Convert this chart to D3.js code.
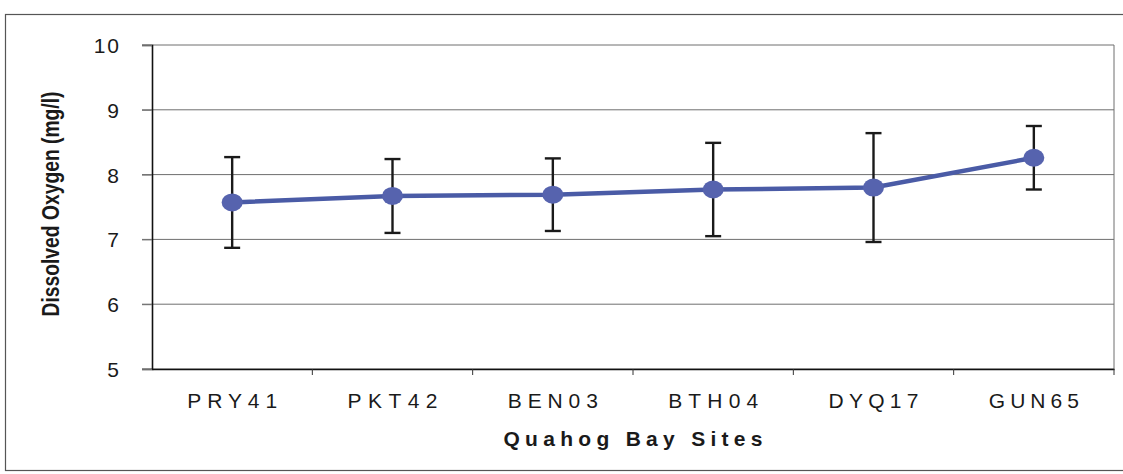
<!DOCTYPE html>
<html>
<head>
<meta charset="utf-8">
<script src="https://cdn.jsdelivr.net/npm/d3@7"></script>
<style>
  body { margin: 0; background: #fff; }
  svg { display: block; font-family: Arial, "Liberation Sans", sans-serif; }
</style>
</head>
<body>
<svg id="chart" width="1123" height="474"></svg>
<script>
// Quahog Bay sites, dissolved oxygen (mg/l), mean with +/- error
const sites = ['PRY41', 'PKT42', 'BEN03', 'BTH04', 'DYQ17', 'GUN65'];
const meanDO = [7.57, 7.67, 7.69, 7.77, 7.80, 8.26];
const errDO = [0.70, 0.57, 0.56, 0.72, 0.84, 0.49];
const yTicks = [5, 6, 7, 8, 9, 10];

const data = sites.map((s, i) => ({ site: s, mean: meanDO[i], err: errDO[i] }));

const svg = d3.select('#chart');
const plotLeft = 152, plotRight = 1114, plotTop = 45, plotBottom = 369;

const x = d3.scaleBand().domain(sites).range([plotLeft, plotRight]).padding(0);
const y = d3.scaleLinear().domain([5, 10]).range([plotBottom, plotTop]);

// outer frame
svg.append('rect')
    .attr('x', 5.5).attr('y', 14.5)
    .attr('width', 1130).attr('height', 456)
    .attr('fill', 'none').attr('stroke', '#555').attr('stroke-width', 1.2);

// gridlines
svg.append('g')
    .selectAll('line')
    .data(yTicks)
    .join('line')
    .attr('x1', plotLeft - 10).attr('x2', plotRight)
    .attr('y1', d => y(d)).attr('y2', d => y(d))
    .attr('stroke', '#6e6e6e').attr('stroke-width', 1);

// right border of plot area
svg.append('line')
    .attr('x1', plotRight).attr('x2', plotRight)
    .attr('y1', plotTop).attr('y2', plotBottom)
    .attr('stroke', '#6e6e6e').attr('stroke-width', 1);

// y axis
const yAxis = svg.append('g')
    .attr('transform', `translate(${plotLeft},0)`)
    .call(d3.axisLeft(y).tickValues(yTicks).tickSize(10).tickPadding(21).tickFormat(d3.format('d')));
yAxis.select('.domain').attr('stroke', '#111').attr('stroke-width', 1.6);
yAxis.selectAll('.tick line').attr('stroke', '#6e6e6e');
yAxis.selectAll('.tick text')
    .attr('font-size', 21).attr('fill', '#1a1a1a')
    .attr('letter-spacing', 2).attr('dy', '0.36em');

// x axis, ticks sit on the band boundaries
const xAxis = svg.append('g')
    .attr('transform', `translate(0,${plotBottom})`)
    .call(d3.axisBottom(x).tickSize(0).tickPadding(24));
xAxis.select('.domain').attr('stroke', '#111').attr('stroke-width', 1.6);
xAxis.selectAll('.tick text')
    .attr('font-size', 21).attr('fill', '#1a1a1a')
    .attr('textLength', 90).attr('lengthAdjust', 'spacing');
svg.append('g')
    .selectAll('line')
    .data(sites)
    .join('line')
    .attr('x1', d => x(d) + x.bandwidth()).attr('x2', d => x(d) + x.bandwidth())
    .attr('y1', plotBottom).attr('y2', plotBottom + 6)
    .attr('stroke', '#333').attr('stroke-width', 1);

// axis titles
svg.append('text')
    .attr('x', (plotLeft + plotRight) / 2).attr('y', 446)
    .attr('text-anchor', 'middle')
    .attr('font-size', 21).attr('font-weight', 'bold').attr('fill', '#1a1a1a')
    .attr('textLength', 259).attr('lengthAdjust', 'spacing')
    .text('Quahog Bay Sites');

svg.append('text')
    .attr('transform', `translate(59,204) rotate(-90)`)
    .attr('text-anchor', 'middle')
    .attr('font-size', 23).attr('font-weight', 'bold').attr('fill', '#1a1a1a')
    .attr('textLength', 225).attr('lengthAdjust', 'spacingAndGlyphs')
    .text('Dissolved Oxygen (mg/l)');

const cx = d => x(d.site) + x.bandwidth() / 2;

// error bars
const bars = svg.append('g').attr('stroke', '#1a1a1a').attr('stroke-width', 2.4);
bars.selectAll('.stem')
    .data(data)
    .join('line')
    .attr('class', 'stem')
    .attr('x1', cx).attr('x2', cx)
    .attr('y1', d => y(d.mean + d.err)).attr('y2', d => y(d.mean - d.err));
bars.selectAll('.cap-hi')
    .data(data)
    .join('line')
    .attr('class', 'cap-hi')
    .attr('x1', d => cx(d) - 8).attr('x2', d => cx(d) + 8)
    .attr('y1', d => y(d.mean + d.err)).attr('y2', d => y(d.mean + d.err));
bars.selectAll('.cap-lo')
    .data(data)
    .join('line')
    .attr('class', 'cap-lo')
    .attr('x1', d => cx(d) - 8).attr('x2', d => cx(d) + 8)
    .attr('y1', d => y(d.mean - d.err)).attr('y2', d => y(d.mean - d.err));

// mean line and markers
const line = d3.line().x(cx).y(d => y(d.mean));
svg.append('path')
    .datum(data)
    .attr('d', line)
    .attr('fill', 'none')
    .attr('stroke', '#4a5ba6')
    .attr('stroke-width', 4.5);

svg.append('g')
    .selectAll('ellipse')
    .data(data)
    .join('ellipse')
    .attr('cx', cx).attr('cy', d => y(d.mean))
    .attr('rx', 10.5).attr('ry', 9)
    .attr('fill', '#5663ae');
</script>
</body>
</html>
